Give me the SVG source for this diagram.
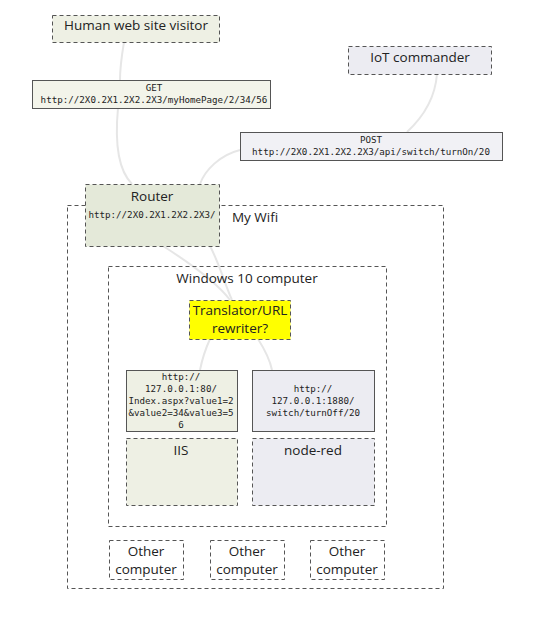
<svg xmlns="http://www.w3.org/2000/svg" width="540" height="622" viewBox="0 0 540 622">
<style>
.dash{stroke:#555;stroke-width:1;stroke-dasharray:4,3}
.solid{stroke:#555;stroke-width:1}
.g{fill:#eef0e4}
.gr{fill:#e4e9d9}
.p{fill:#ececf2}
.t{font-family:"Open Sans","Liberation Sans",sans-serif;font-size:13.5px;fill:#222;text-anchor:middle}
.m{font-family:"DejaVu Sans Mono","Liberation Mono",monospace;font-size:9.2px;fill:#222;text-anchor:middle}
.c{fill:none;stroke:#e6e6e6;stroke-width:2}
</style>
<rect width="540" height="622" fill="#fff"/>
<g id="connectors">
<path class="c" d="M124,42 C121,60 120,70 120,80"/>
<path class="c" d="M118,108 C115,140 118,170 132,184"/>
<path class="c" d="M437,74 C435,100 420,120 407,132"/>
<path class="c" d="M240,150 C220,155 205,170 200,184"/>
<path class="c" d="M163,246 C185,260 215,280 230,300"/>
<path class="c" d="M210,246 C220,265 225,285 232,300"/>
<path class="c" d="M210,339 C205,350 202,360 200,370"/>
<path class="c" d="M258,339 C265,350 270,360 272,370"/>
</g>
<g id="wifi"><rect x="67.5" y="205.5" width="376" height="383" fill="none" class="dash"/><text class="t" x="255" y="222">My Wifi</text></g>
<g id="windows"><rect x="108.5" y="266.5" width="278" height="260" fill="none" class="dash"/><text class="t" x="247" y="283">Windows 10 computer</text></g>
<g id="router"><rect x="85.5" y="184.5" width="134" height="62" class="gr dash"/><text class="t" x="152" y="201">Router</text><text class="m" x="152" y="218">http://2X0.2X1.2X2.2X3/</text></g>
<g id="visitor"><rect x="52.5" y="15.5" width="167" height="27" class="g dash"/><text class="t" x="136" y="30">Human web site visitor</text></g>
<g id="iot"><rect x="348.5" y="46.5" width="143" height="28" class="p dash"/><text class="t" x="420" y="62">IoT commander</text></g>
<g id="get"><rect x="32.5" y="80.5" width="238" height="28" fill="#f3f4ea" class="solid"/><text class="m" x="154" y="91">GET</text><text class="m" x="154" y="103">http://2X0.2X1.2X2.2X3/myHomePage/2/34/56</text></g>
<g id="post"><rect x="240.5" y="132.5" width="262" height="28" fill="#f1f1f5" class="solid"/><text class="m" x="371" y="143">POST</text><text class="m" x="371" y="155">http://2X0.2X1.2X2.2X3/api/switch/turnOn/20</text></g>
<g id="translator"><rect x="189.5" y="300.5" width="101" height="39" fill="#ffff00" class="dash"/><text class="t" x="240" y="315">Translator/URL</text><text class="t" x="240" y="333">rewriter?</text></g>
<g id="iis-url"><rect x="126.5" y="370.5" width="111" height="61" class="g solid"/><text class="m" x="181" y="380">http://</text><text class="m" x="181" y="392">127.0.0.1:80/</text><text class="m" x="181" y="404">Index.aspx?value1=2</text><text class="m" x="181" y="416">&amp;value2=34&amp;value3=5</text><text class="m" x="181" y="428">6</text></g>
<g id="nr-url"><rect x="252.5" y="370.5" width="122" height="61" class="p solid"/><text class="m" x="313" y="392">http://</text><text class="m" x="313" y="404">127.0.0.1:1880/</text><text class="m" x="313" y="416">switch/turnOff/20</text></g>
<g id="iis"><rect x="126.5" y="438.5" width="111" height="67" class="g dash"/><text class="t" x="181" y="455">IIS</text></g>
<g id="nodered"><rect x="252.5" y="438.5" width="122" height="67" class="p dash"/><text class="t" x="313" y="455">node-red</text></g>
<g id="other1"><rect x="109.5" y="540.5" width="74" height="39" fill="none" class="dash"/><text class="t" x="146" y="556">Other</text><text class="t" x="146" y="574">computer</text></g>
<g id="other2"><rect x="210.5" y="540.5" width="74" height="39" fill="none" class="dash"/><text class="t" x="247" y="556">Other</text><text class="t" x="247" y="574">computer</text></g>
<g id="other3"><rect x="310.5" y="540.5" width="74" height="39" fill="none" class="dash"/><text class="t" x="347" y="556">Other</text><text class="t" x="347" y="574">computer</text></g>
</svg>
